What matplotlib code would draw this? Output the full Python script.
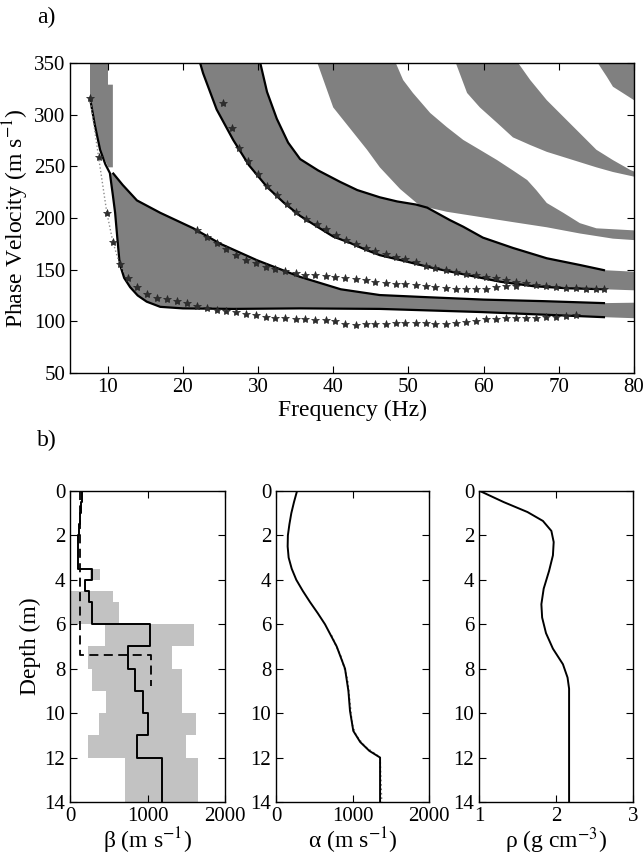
import matplotlib
matplotlib.use("Agg")
import matplotlib.pyplot as plt
import numpy as np

plt.rcParams['font.family'] = ['Liberation Serif', 'DejaVu Serif']
plt.rcParams['mathtext.fontset'] = 'stix'

# ---- panel a: dispersion curves ----
# black model curves (frequency Hz, phase velocity m/s)
curve1_f = [7.66, 8.3, 9.0, 9.7, 10.3, 10.7, 11.0, 11.3, 11.6, 12.2, 13.0, 14.0, 15.2, 17.0, 20.0, 26.7, 35.6, 46.2, 59.5, 76.0]
curve1_v = [316, 290, 266, 252, 243.5, 222, 205, 180, 156, 142, 133, 125, 119, 114, 112.5, 112, 112.5, 112, 109, 104]

curve2_f = [10.76, 12.0, 13.9, 17.0, 21.4, 25.0, 29.9, 35.6, 41.0, 46.2, 52.0, 60.0, 68.0, 76.0]
curve2_v = [243, 232, 217, 205, 190, 175, 159, 143, 131, 125.4, 123.5, 121, 119.5, 117.6]

curve3lo_f = [22.3, 22.7, 24.5, 26.7, 28.8, 31.2, 33.4, 35.6, 38.0, 40.0, 42.2, 44.4, 46.2, 48.9, 53.3, 57.8, 62.2, 66.6, 71.0, 76.0]
curve3lo_v = [350, 340, 305, 275.5, 251, 230, 215, 202, 191, 182, 176, 169, 164, 159.3, 151.5, 144.8, 138.3, 134, 132, 131]

curve3up_f = [30.3, 31.2, 32.5, 34.0, 35.6, 38.0, 40.9, 43.2, 46.2, 48.5, 51.0, 52.5, 55.5, 57.3, 59.9, 63.9, 68.4, 72.8, 76.0]
curve3up_v = [350, 322, 296, 273, 257, 246, 235, 227, 220, 216, 213, 210, 198, 191.5, 181, 171, 161, 154.5, 149.5]

# gray misfit bands (outline points)
bandA_f = [7.66, 7.66, 9.0, 10.1, 10.7, 10.7, 10.05, 10.05]
bandA_v = [352, 316, 266, 249, 249, 329, 329, 352]

bandD_lo_f = [37.8, 40.0, 44.5, 46.2, 48.9, 51.5, 55.1, 59.5, 63.9, 68.4, 72.8, 77.2, 80.0]
bandD_lo_v = [352, 307, 266, 249, 228, 212, 206, 201, 196, 191, 185, 180, 178.6]
bandD_up_f = [80.0, 75.0, 72.8, 70.6, 68.4, 67.0, 65.8, 63.9, 61.8, 59.5, 57.3, 55.1, 52.9, 50.6, 49.3, 48.2]
bandD_up_v = [188, 190, 195, 205, 214.5, 227, 236.7, 246, 256, 266, 275.5, 288, 301.6, 321, 333.5, 352]

bandE_lo_f = [56.2, 57.8, 59.5, 61.8, 63.9, 66.2, 68.4, 70.6, 72.8, 75.0, 77.2, 80.0]
bandE_lo_v = [352, 321, 307, 292, 278, 270.6, 264, 259, 254, 249, 244.5, 240]
bandE_up_f = [80.0, 79.5, 77.2, 75.0, 72.8, 70.6, 68.4, 66.2, 64.4]
bandE_up_v = [245, 246.5, 256, 266, 282, 298, 314, 333.5, 352]

bandF_f = [75.0, 76.4, 77.2, 78.5, 80.0, 80.0]
bandF_v = [352, 336.5, 327, 321, 314, 352]

# picked data (stars)
g1_f = [7.66, 8.8, 9.9, 10.7, 11.6, 12.7, 13.9, 15.2, 16.6, 17.9, 19.2, 20.5, 21.9, 23.2, 24.5, 25.8,
        27.1, 28.4, 29.7, 31.0, 32.3, 33.6, 35.0, 36.3, 37.6, 39.0, 40.3, 41.6, 43.0, 44.3, 45.6, 47.0,
        48.3, 49.6, 51.0, 52.3, 53.6, 55.0, 56.3, 57.6, 59.0, 60.3, 61.6, 63.0, 64.3, 65.6, 67.0, 68.3,
        69.6, 71.0, 72.3]
g1_v = [316, 259, 205, 177, 155, 142, 133, 126, 123, 121.5, 119.6, 117.5, 115, 112.5, 111, 110,
        109, 107, 106, 104.5, 103.5, 103, 102.5, 102, 101.5, 101, 100, 97, 96.5, 97, 97, 97.5,
        98, 98, 98, 98, 97, 97.5, 98.5, 99, 100, 102, 102.5, 103, 103, 103, 103.5, 104,
        104.5, 105, 106]

g2_f = [21.9, 23.2, 24.5, 25.8, 27.1, 28.4, 29.7, 31.0, 32.3, 33.6, 35.0, 36.3, 37.6, 39.0, 40.3, 41.6,
        43.0, 44.3, 45.6, 47.0, 48.3, 49.6, 51.0, 52.3, 53.6, 55.0, 56.3, 57.6, 59.0, 60.3, 61.6, 63.0, 64.3]
g2_v = [188, 182, 176, 170, 164, 159.5, 156, 153, 150.5, 148.5, 146.5, 145, 144.5, 143.5, 142.5, 141.5,
        140.5, 139.5, 138.5, 137.5, 136.5, 136, 135, 134, 133, 132, 131.5, 131, 131, 131.5, 133, 134, 134.5]

g3_f = [25.4, 26.5, 27.5, 28.7, 30.0, 31.2, 32.5, 33.8, 35.1, 36.4, 37.8, 39.1, 40.4, 41.7, 43.0, 44.3,
        45.6, 47.0, 48.3, 49.6, 51.0, 52.3, 53.6, 55.0, 56.3, 57.6, 59.0, 60.3, 61.6, 63.0, 64.3, 65.6,
        67.0, 68.3, 69.6, 71.0, 72.3, 73.6, 75.0, 76.0]
g3_v = [311, 287, 268, 255, 243, 231, 222, 214, 206, 199, 194, 189, 184, 179, 175, 171,
        168, 165, 162.5, 160, 157, 154, 152, 150, 148, 146, 144.5, 143, 141.5, 140, 138.5, 137,
        135.5, 134, 133, 132.5, 132, 131.5, 131, 131]

# ---- panel b: models vs depth ----
beta_bounds = [0, 0.5, 1, 1.5, 2, 2.5, 3, 3.5, 4, 4.5, 5, 6, 7, 8, 9, 10, 11, 12, 14]
beta_vals = [160, 140, 125, 112, 105, 100, 98, 282, 192, 245, 282, 1035, 742, 845, 937, 1000, 860, 1185]

true_beta_v = [130, 130, 1040, 1040]
true_beta_d = [0, 7.4, 7.4, 8.8]

unc_top = [3.5, 4.5, 5, 6, 7, 8, 9, 10, 11, 12]
unc_bot = [4, 5, 6, 7, 8, 9, 10, 11, 12, 14]
unc_lo = [262, 0, 0, 450, 230, 290, 462, 375, 232, 708]
unc_hi = [393, 550, 635, 1595, 1320, 1450, 1450, 1625, 1495, 1648]

alpha_d = [0, 0.5, 1.0, 1.5, 2.0, 2.5, 3.0, 3.5, 4.0, 4.5, 5.0, 5.5, 6.0, 7.0, 8.0, 9.0, 9.9, 10.8, 11.3, 11.7, 12.0, 14.0]
alpha_v = [275, 235, 200, 175, 155, 152, 165, 205, 265, 350, 444, 545, 640, 793, 902, 946, 967, 1010, 1100, 1220, 1360, 1360]
alpha_dot_d = [6.5, 7.5, 8.5, 9.5, 10.5, 11.0, 11.5, 12.0, 14.0]
alpha_dot_v = [725, 855, 935, 965, 995, 1045, 1160, 1360, 1380]

rho_d = [0, 0.5, 0.95, 1.35, 1.8, 2.3, 2.9, 3.6, 4.4, 5.1, 5.7, 6.4, 7.1, 7.8, 8.4, 8.9, 14]
rho_v = [1.01, 1.32, 1.63, 1.83, 1.94, 1.97, 1.96, 1.91, 1.84, 1.81, 1.82, 1.87, 1.96, 2.09, 2.15, 2.17, 2.17]

TICK = 15
LAB = 17
band_gray = '0.5'


def style(ax):
    ax.tick_params(direction='in', top=True, right=True, length=5, width=0.8, labelsize=TICK)
    for s in ax.spines.values():
        s.set_linewidth(1.0)


fig = plt.figure(figsize=(6.44, 8.58), dpi=100)

ax = fig.add_axes([0.1087, 0.5653, 0.8758, 0.3613])
ax.fill(bandA_f, bandA_v, color=band_gray, lw=0)
ax.fill(np.r_[curve1_f[4:], 80, 80, curve2_f[::-1]],
        np.r_[curve1_v[4:], 103, 118, curve2_v[::-1]], color=band_gray, lw=0)
ax.fill(np.r_[curve3lo_f, 80, 80, curve3up_f[::-1]],
        np.r_[curve3lo_v, 130, 148, curve3up_v[::-1]], color=band_gray, lw=0)
ax.fill(np.r_[bandD_lo_f, bandD_up_f], np.r_[bandD_lo_v, bandD_up_v], color=band_gray, lw=0)
ax.fill(np.r_[bandE_lo_f, bandE_up_f], np.r_[bandE_lo_v, bandE_up_v], color=band_gray, lw=0)
ax.fill(bandF_f, bandF_v, color=band_gray, lw=0)

for cf, cv in [(curve1_f, curve1_v), (curve2_f, curve2_v), (curve3lo_f, curve3lo_v), (curve3up_f, curve3up_v)]:
    ax.plot(cf, cv, color='k', lw=1.6)

ax.plot(g1_f[:7], g1_v[:7], ':', color='0.55', lw=1.0)
for gf, gv in [(g1_f, g1_v), (g2_f, g2_v), (g3_f, g3_v)]:
    ax.plot(gf, gv, ls='none', marker='*', ms=6, color='0.18', mec='0.15', mew=0.5)

ax.set_xlim(5, 80)
ax.set_ylim(50, 350)
ax.set_xticks(range(10, 81, 10))
ax.set_yticks(range(50, 351, 50))
ax.set_xlabel('Frequency (Hz)', fontsize=LAB, labelpad=2)
ax.set_ylabel('Phase Velocity (m s$^{-1}$)', fontsize=LAB, labelpad=2)
style(ax)

# bottom panels
b1 = fig.add_axes([0.1087, 0.0653, 0.2407, 0.3625])
mid = (np.array(unc_top) + np.array(unc_bot)) / 2
thick = np.array(unc_bot) - np.array(unc_top)
b1.barh(mid, np.array(unc_hi) - np.array(unc_lo), left=unc_lo, height=thick, color='0.76', lw=0)
b1.plot(true_beta_v, true_beta_d, '--', color='k', lw=1.3, dashes=(5, 3))
b1.plot(np.repeat(beta_vals, 2), np.repeat(beta_bounds, 2)[1:-1], color='k', lw=1.4)
b1.set_xlim(0, 2000)
b1.set_ylim(14, 0)
b1.set_xticks([0, 1000, 2000])
b1.set_yticks(range(0, 15, 2))
b1.set_xlabel('β (m s$^{-1}$)', fontsize=LAB, labelpad=0)
b1.set_ylabel('Depth (m)', fontsize=LAB, labelpad=2)
style(b1)

b2 = fig.add_axes([0.4286, 0.0653, 0.2376, 0.3625])
b2.plot(alpha_dot_v, alpha_dot_d, ':', color='0.45', lw=1.2)
b2.plot(alpha_v, alpha_d, color='k', lw=1.4)
b2.set_xlim(0, 2000)
b2.set_ylim(14, 0)
b2.set_xticks([0, 1000, 2000])
b2.set_yticks(range(0, 15, 2))
b2.set_xlabel('α (m s$^{-1}$)', fontsize=LAB, labelpad=0)
style(b2)

b3 = fig.add_axes([0.7438, 0.0653, 0.2391, 0.3625])
b3.plot(rho_v, rho_d, color='k', lw=1.4)
b3.set_xlim(1, 3)
b3.set_ylim(14, 0)
b3.set_xticks([1, 2, 3])
b3.set_yticks(range(0, 15, 2))
b3.set_xlabel('ρ (g cm$^{-3}$)', fontsize=LAB, labelpad=0)
style(b3)

fig.text(0.057, 0.980, 'a)', fontsize=LAB, ha='left', va='center')
fig.text(0.057, 0.487, 'b)', fontsize=LAB, ha='left', va='center')

fig.savefig('out.png', dpi=100)
